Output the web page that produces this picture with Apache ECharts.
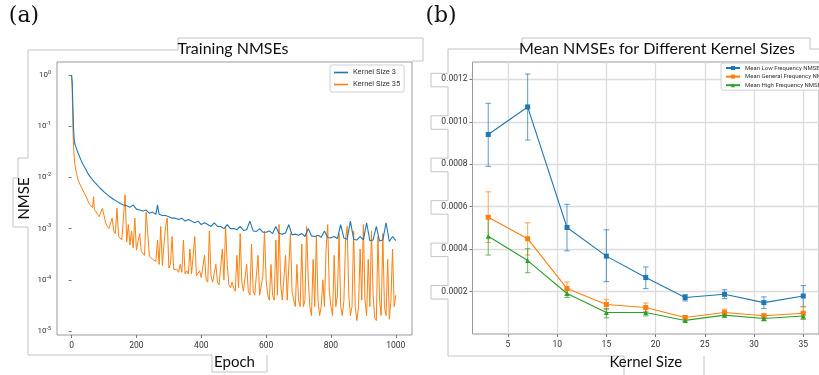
<!DOCTYPE html>
<html><head><meta charset="utf-8">
<script src="https://cdn.jsdelivr.net/npm/echarts@6/dist/echarts.min.js"></script>
<style>html,body{margin:0;padding:0;background:#fff}#c{width:819px;height:375px}</style>
</head><body><div id="c"></div>
<script>
// ---------- Panel (a): training curves ----------
const epochTicks = [0, 200, 400, 600, 800, 1000];
const logTicks = [1e-5, 1e-4, 1e-3, 1e-2, 1e-1, 1];
const seriesNamesA = ['Kernel Size 3', 'Kernel Size 35'];
// [epoch, NMSE]
const k3Curve = [[0,1.0],[2,0.7],[4,0.25],[6,0.09],[8,0.055],[10,0.045],[13,0.04],[16,0.035],[20,0.03],[25,0.025],[30,0.021],[35,0.018],[40,0.016],[45,0.014],[50,0.012],[55,0.011],[60,0.0098],[70,0.0082],[80,0.007],[90,0.006],[100,0.0052],[110,0.0046],[120,0.0041],[130,0.0037],[140,0.0034],[150,0.0031],[160,0.0029],[170,0.0028],[180,0.0026],[190,0.0029],[200,0.0024],[210,0.0023],[220,0.0022],[230,0.0023],[240,0.002],[250,0.0021],[260,0.0019],[265,0.0029],[270,0.0019],[280,0.0018],[290,0.0018],[300,0.0017],[310,0.0016],[320,0.0016],[330,0.0015],[340,0.0016],[350,0.0014],[360,0.0015],[370,0.0014],[380,0.0013],[390,0.0014],[400,0.0012],[410,0.0013],[420,0.0012],[430,0.0011],[440,0.0013],[450,0.0011],[460,0.0011],[470,0.001],[480,0.0012],[490,0.001],[500,0.001],[510,0.00095],[520,0.0011],[530,0.00092],[540,0.00095],[550,0.0014],[560,0.0009],[570,0.00088],[580,0.001],[590,0.00085],[600,0.00085],[610,0.0009],[620,0.0008],[630,0.0011],[640,0.0008],[650,0.00078],[660,0.00082],[670,0.0012],[680,0.00075],[690,0.00078],[700,0.00074],[710,0.0008],[720,0.0007],[730,0.001],[740,0.00072],[750,0.0007],[760,0.00074],[770,0.00068],[780,0.0009],[790,0.00067],[800,0.00066],[810,0.0007],[820,0.00064],[830,0.0012],[840,0.00065],[850,0.00062],[860,0.0014],[870,0.00062],[880,0.0006],[890,0.0007],[900,0.0006],[910,0.0013],[920,0.00058],[930,0.0006],[940,0.0011],[950,0.00057],[960,0.0006],[970,0.0013],[980,0.00056],[990,0.0007],[1000,0.00058]];
const k35Curve = [[0,1.0],[2,0.5],[4,0.1],[6,0.04],[8,0.025],[10,0.018],[15,0.012],[20,0.009],[25,0.0075],[30,0.0065],[35,0.006],[40,0.0048],[45,0.0042],[50,0.0035],[55,0.003],[60,0.0028],[65,0.0026],[68,0.0042],[70,0.0024],[75,0.0022],[80,0.0019],[85,0.0017],[90,0.0016],[95,0.0025],[100,0.0024],[105,0.0013],[110,0.0011],[115,0.001],[120,0.00095],[125,0.0016],[130,0.0009],[135,0.0008],[140,0.0025],[145,0.0007],[150,0.00065],[155,0.0006],[160,0.00058],[165,0.0046],[170,0.00055],[175,0.0012],[180,0.00048],[185,0.0009],[190,0.00042],[195,0.0016],[200,0.00038],[205,0.0004],[210,0.0008],[215,0.00036],[220,0.00033],[225,0.0003],[230,0.0021],[235,0.0008],[240,0.00029],[245,0.00027],[250,0.00025],[255,0.00024],[260,0.00023],[265,0.0006],[270,0.0002],[275,0.0011],[280,0.00019],[285,0.0005],[290,0.0011],[295,0.0016],[300,0.00017],[305,0.0002],[310,0.0007],[315,0.00016],[320,0.00015],[325,0.00016],[330,0.00014],[335,0.0002],[340,0.00014],[345,0.0006],[350,0.00013],[355,0.00015],[360,0.00013],[365,0.0004],[370,0.00013],[375,0.00012],[380,0.0007],[385,0.00012],[390,0.00011],[395,0.00015],[400,0.00011],[405,0.00011],[410,0.0003],[415,0.0001],[420,0.00009],[425,0.0009],[430,0.00012],[435,0.00009],[440,0.00009],[445,0.0002],[450,0.00009],[455,0.00008],[460,0.00008],[465,0.0004],[470,0.0001],[475,0.0011],[480,0.0002],[485,0.00008],[490,0.00007],[495,0.00009],[500,0.00007],[505,0.00006],[510,0.0003],[515,0.00007],[520,0.0008],[525,0.00009],[530,0.00006],[535,0.00006],[540,0.0002],[545,0.00006],[550,0.00005],[555,0.0005],[560,0.00006],[565,0.00005],[570,0.00005],[575,0.0003],[580,0.00005],[585,0.00005],[590,0.00012],[595,0.0009],[600,0.0001],[605,0.00005],[610,0.00004],[615,0.0002],[620,0.00005],[625,0.00004],[630,0.0006],[635,0.00005],[640,0.0012],[645,0.00008],[650,0.00004],[655,0.00004],[660,0.0003],[665,0.00004],[670,0.00004],[675,0.0008],[680,0.00006],[685,0.00004],[690,0.00003],[695,0.0002],[700,0.00004],[705,0.00003],[710,0.0005],[715,0.00003],[720,0.00004],[725,0.0011],[730,0.0001],[735,0.00003],[740,0.00002],[745,0.00025],[750,0.00003],[755,0.0007],[760,0.00004],[765,0.00002],[770,0.00003],[775,0.0001],[780,0.00003],[785,0.0004],[790,0.0012],[795,0.00006],[800,0.00003],[805,0.00002],[810,0.0003],[815,0.00003],[820,0.00005],[825,0.0008],[830,0.00003],[835,0.00002],[840,0.00004],[845,0.0006],[850,0.0011],[855,0.00005],[860,0.00002],[865,0.00003],[870,0.0009],[875,0.00003],[880,0.000016],[885,0.00003],[890,0.0004],[895,0.00004],[900,0.0012],[905,0.00004],[910,0.00002],[915,0.00025],[920,0.00003],[925,0.0009],[930,0.00005],[935,0.000018],[940,0.000016],[945,0.0007],[950,0.00004],[955,0.00002],[960,0.0008],[965,0.00003],[970,0.00002],[975,0.00025],[980,0.000017],[985,0.00004],[990,0.0004],[995,0.00003],[1000,0.00005]];

// ---------- Panel (b): mean NMSE vs kernel size ----------
const kernelSizes = [3, 7, 11, 15, 19, 23, 27, 31, 35];
const kernelTicks = [5, 10, 15, 20, 25, 30, 35];
const nmseTicks = [0.0002, 0.0004, 0.0006, 0.0008, 0.0010, 0.0012];
const seriesNamesB = ['Mean Low Frequency NMSE', 'Mean General Frequency NMSE', 'Mean High Frequency NMSE'];
const lowMean = [0.00094, 0.00107, 0.000502, 0.000367, 0.000266, 0.000172, 0.000187, 0.000148, 0.000179];
const lowErrLo = [0.00079, 0.000914, 0.000392, 0.000247, 0.000214, 0.000156, 0.000167, 0.00012, 0.000128];
const lowErrHi = [0.001087, 0.001225, 0.000611, 0.000491, 0.000316, 0.000186, 0.000209, 0.000175, 0.000228];
const genMean = [0.00055, 0.000449, 0.000214, 0.000139, 0.000125, 0.000078, 0.000101, 0.000086, 0.000098];
const genErrLo = [0.000431, 0.000372, 0.000183, 0.000115, 0.000106, 0.00007, 0.000086, 0.000075, 0.00007];
const genErrHi = [0.00067, 0.000524, 0.000245, 0.000163, 0.000146, 0.000086, 0.000117, 0.000097, 0.00013];
const highMean = [0.000461, 0.000346, 0.000191, 0.000101, 0.000101, 0.000064, 0.000089, 0.000073, 0.000085];
const highErrLo = [0.000372, 0.000289, 0.000172, 0.000076, 0.000085, 0.000057, 0.000078, 0.000062, 0.00007];
const highErrHi = [0.000557, 0.000402, 0.000211, 0.00012, 0.00012, 0.000071, 0.0001, 0.000084, 0.0001];

const C_BLUE = '#1f77b4', C_ORANGE = '#ff7f0e', C_GREEN = '#2ca02c';
const OUT = '#c4c4c4';
const FONT = 'Roboto';
const TITLE_FONT = 'Lato';

const chart = echarts.init(document.getElementById('c'), null, {renderer: 'canvas'});

function errRender(color) {
  return function (params, api) {
    const x = api.value(0), lo = api.value(1), hi = api.value(2);
    const pLo = api.coord([x, lo]), pHi = api.coord([x, hi]);
    const w = 2.8;
    const st = {stroke: color, lineWidth: 1.1, opacity: 0.65};
    return {type: 'group', children: [
      {type: 'line', shape: {x1: pLo[0], y1: pLo[1], x2: pHi[0], y2: pHi[1]}, style: st},
      {type: 'line', shape: {x1: pLo[0] - w, y1: pLo[1], x2: pLo[0] + w, y2: pLo[1]}, style: st},
      {type: 'line', shape: {x1: pHi[0] - w, y1: pHi[1], x2: pHi[0] + w, y2: pHi[1]}, style: st}
    ]};
  };
}
function errData(lo, hi) { return kernelSizes.map((k, i) => [k, lo[i], hi[i]]); }
function lineData(means) { return kernelSizes.map((k, i) => [k, means[i]]); }

const supLabel = {
  formatter: v => { const e = Math.round(Math.log10(v)); return '{b|10}{s|' + (e < 0 ? '-' + (-e) : e) + '}'; },
  rich: {
    b: {fontSize: 8, fontFamily: FONT, color: '#333'},
    s: {fontSize: 5.5, fontFamily: FONT, color: '#333', padding: [0, 0, 5, 0]}
  }
};

const option = {
  animation: false,
  backgroundColor: '#fff',
  grid: [
    {left: 57, top: 62, width: 355, height: 273, show: true, borderColor: '#9a9a9a', borderWidth: 1},
    {left: 472.5, top: 62, width: 357, height: 273, show: true, borderColor: '#9a9a9a', borderWidth: 1}
  ],
  xAxis: [
    {gridIndex: 0, type: 'value', min: -45, max: 1050,
     axisLine: {show: false}, splitLine: {show: false},
     axisTick: {show: true, length: 3, customValues: epochTicks, lineStyle: {color: '#777'}},
     axisLabel: {customValues: epochTicks, fontSize: 8.5, fontFamily: FONT, color: '#333', margin: 6, formatter: v => String(v)},
     name: 'Epoch', nameLocation: 'middle', nameGap: 19,
     nameTextStyle: {fontSize: 15, fontFamily: TITLE_FONT, color: '#111'}},
    {gridIndex: 1, type: 'value', min: 1.4, max: 36.6,
     axisLine: {show: false},
     splitLine: {show: true, lineStyle: {color: '#dcdcdc', width: 1.3}},
     axisTick: {show: true, length: 3, customValues: kernelTicks, lineStyle: {color: '#777'}},
     axisLabel: {customValues: kernelTicks, fontSize: 8.5, fontFamily: FONT, color: '#333', margin: 6},
     name: 'Kernel Size', nameLocation: 'middle', nameGap: 21,
     nameTextStyle: {fontSize: 15, fontFamily: TITLE_FONT, color: '#111'}}
  ],
  yAxis: [
    {gridIndex: 0, type: 'log', logBase: 10, min: 8.35e-6, max: 1.795,
     axisLine: {show: false}, splitLine: {show: false}, minorTick: {show: false},
     axisTick: {show: true, length: 3, customValues: logTicks, lineStyle: {color: '#777'}},
     axisLabel: Object.assign({customValues: logTicks, margin: 6}, supLabel),
     name: 'NMSE', nameLocation: 'middle', nameGap: 25, nameRotate: 90,
     nameTextStyle: {fontSize: 15, fontFamily: TITLE_FONT, color: '#111'}},
    {gridIndex: 1, type: 'value', min: 0, max: 0.0012817,
     axisLine: {show: false},
     splitLine: {show: true, lineStyle: {color: '#dcdcdc', width: 1.3}},
     axisTick: {show: true, length: 3, customValues: nmseTicks, lineStyle: {color: '#777'}},
     axisLabel: {customValues: nmseTicks, fontSize: 8.5, fontFamily: FONT, color: '#333', margin: 5,
                 formatter: v => v.toFixed(4)}}
  ],
  legend: [
    {data: seriesNamesA.map(n => ({name: n, icon: 'rect'})), left: 330, top: 65, orient: 'vertical',
     itemWidth: 14, itemHeight: 1.6, itemGap: 3,
     padding: [3, 4, 3, 4], backgroundColor: '#fff', borderColor: '#d0d0d0', borderWidth: 1, borderRadius: 2,
     textStyle: {fontSize: 7.5, fontFamily: FONT, color: '#333', lineHeight: 9}},
    {data: seriesNamesB, left: 721, top: 63, orient: 'vertical', itemWidth: 14, itemHeight: 5, itemGap: 2.6,
     padding: [2, 4, 2, 4], backgroundColor: '#fff', borderColor: '#d0d0d0', borderWidth: 1, borderRadius: 2,
     textStyle: {fontSize: 6, fontFamily: FONT, color: '#333'}}
  ],
  series: [
    {name: seriesNamesA[0], type: 'line', xAxisIndex: 0, yAxisIndex: 0, data: k3Curve,
     showSymbol: false, symbol: 'none', color: C_BLUE, lineStyle: {width: 1.1, color: C_BLUE}, z: 3},
    {name: seriesNamesA[1], type: 'line', xAxisIndex: 0, yAxisIndex: 0, data: k35Curve,
     showSymbol: false, symbol: 'none', color: C_ORANGE, lineStyle: {width: 1, color: C_ORANGE}, z: 2},

    {type: 'custom', xAxisIndex: 1, yAxisIndex: 1, renderItem: errRender(C_BLUE), data: errData(lowErrLo, lowErrHi), encode: {x: 0, y: [1, 2]}, z: 2},
    {type: 'custom', xAxisIndex: 1, yAxisIndex: 1, renderItem: errRender(C_ORANGE), data: errData(genErrLo, genErrHi), encode: {x: 0, y: [1, 2]}, z: 2},
    {type: 'custom', xAxisIndex: 1, yAxisIndex: 1, renderItem: errRender(C_GREEN), data: errData(highErrLo, highErrHi), encode: {x: 0, y: [1, 2]}, z: 2},

    {name: seriesNamesB[0], type: 'line', xAxisIndex: 1, yAxisIndex: 1, data: lineData(lowMean),
     symbol: 'rect', symbolSize: 5, color: C_BLUE, lineStyle: {width: 1.1, color: C_BLUE}, itemStyle: {color: C_BLUE}, z: 3},
    {name: seriesNamesB[1], type: 'line', xAxisIndex: 1, yAxisIndex: 1, data: lineData(genMean),
     symbol: 'rect', symbolSize: 5, color: C_ORANGE, lineStyle: {width: 1.1, color: C_ORANGE}, itemStyle: {color: C_ORANGE}, z: 3},
    {name: seriesNamesB[2], type: 'line', xAxisIndex: 1, yAxisIndex: 1, data: lineData(highMean),
     symbol: 'triangle', symbolSize: 5, color: C_GREEN, lineStyle: {width: 1.1, color: C_GREEN}, itemStyle: {color: C_GREEN}, z: 3}
  ]
};
chart.setOption(option);

// decorative outlines & texts (positions derived from the axes where relevant)
const tickY = nmseTicks.map(v => chart.convertToPixel({yAxisIndex: 1}, v));
const rightPath = [[819, 49], [810, 49], [810, 38], [522, 38], [522, 49], [448, 49]];
tickY.slice().sort((a, b) => a - b).forEach(y => {
  rightPath.push([448, y - 6], [431, y - 6], [431, y + 7.5], [448, y + 7.5]);
});
rightPath.push([448, 356], [624, 356], [624, 376]);

const leftPath = [[423, 61], [423, 38], [178, 38], [178, 50], [28, 50], [28, 158], [18, 158], [18, 178], [13, 178],
  [13, 227], [28, 227], [28, 355], [212, 355], [212, 372], [267, 372], [267, 355]];

chart.setOption({
  graphic: [
    {type: 'polyline', shape: {points: leftPath}, style: {stroke: OUT, lineWidth: 1, fill: null}, z: -1},
    {type: 'polyline', shape: {points: [[423, 61], [412, 61]]}, style: {stroke: OUT, lineWidth: 1, fill: null}, z: -1},
    {type: 'polyline', shape: {points: rightPath}, style: {stroke: OUT, lineWidth: 1, fill: null}, z: -1},
    {type: 'polyline', shape: {points: [[704, 376], [704, 356]]}, style: {stroke: OUT, lineWidth: 1, fill: null}, z: -1},
    {type: 'text', x: 24, y: 16, style: {text: '(a)', font: '22px "DejaVu Serif"', fill: '#111', align: 'center', verticalAlign: 'middle'}},
    {type: 'text', x: 441, y: 16, style: {text: '(b)', font: '22px "DejaVu Serif"', fill: '#111', align: 'center', verticalAlign: 'middle'}},
    {type: 'text', x: 233, y: 49, style: {text: 'Training NMSEs', font: '16px Lato', fill: '#111', align: 'center', verticalAlign: 'middle'}},
    {type: 'text', x: 657, y: 49, style: {text: 'Mean NMSEs for Different Kernel Sizes', font: '16px Lato', fill: '#111', align: 'center', verticalAlign: 'middle'}}
  ]
});
</script>
</body></html>
